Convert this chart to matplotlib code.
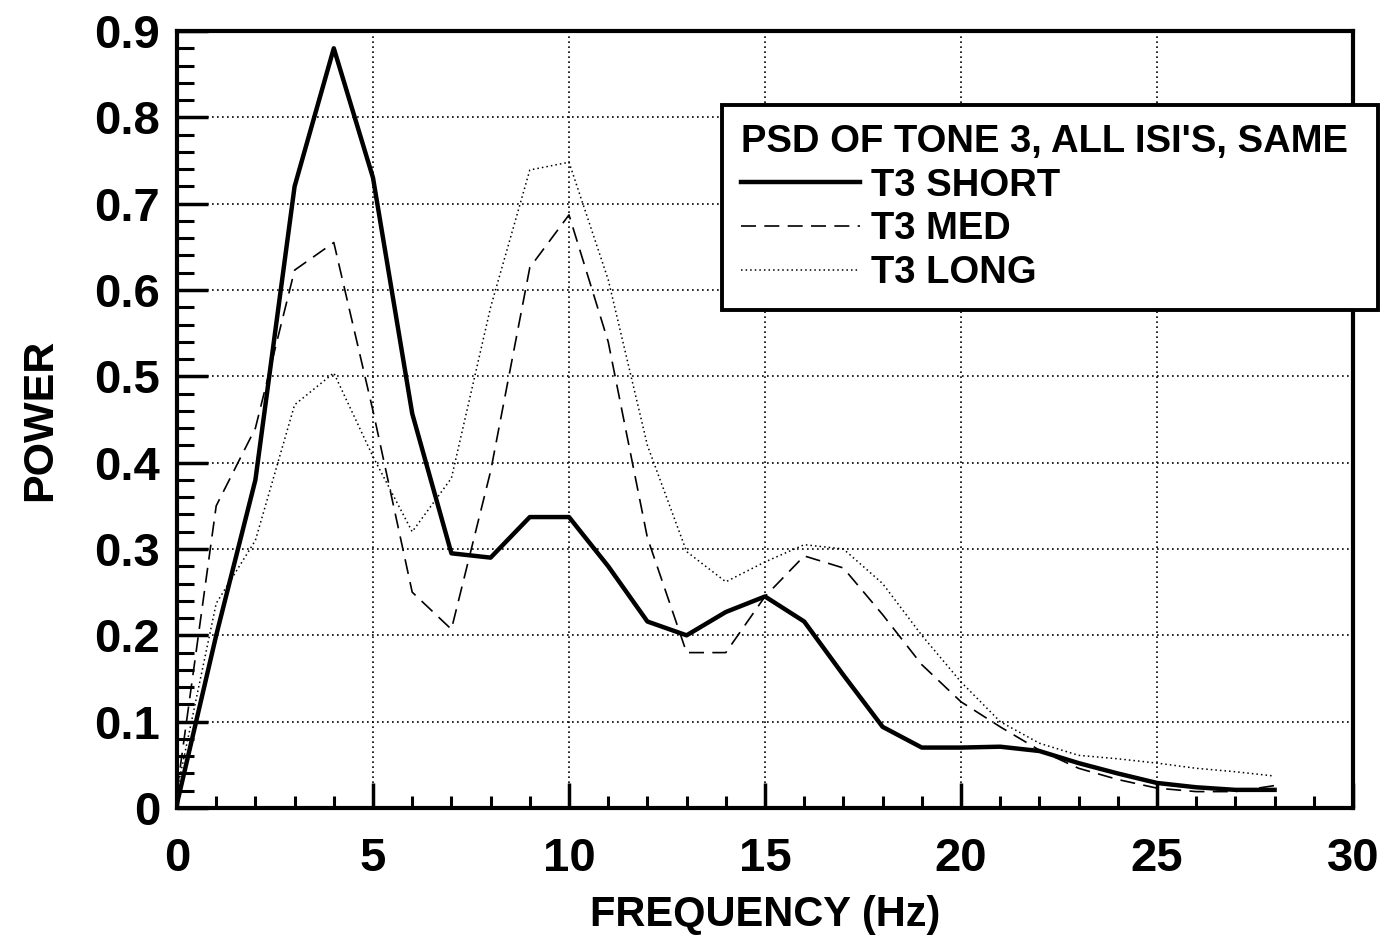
import matplotlib
matplotlib.use("Agg")
import matplotlib.pyplot as plt
from matplotlib.ticker import MultipleLocator

freq = list(range(0, 29))
t3_short = [0.005, 0.20, 0.38, 0.72, 0.88, 0.73, 0.457, 0.295, 0.29, 0.337, 0.337,
            0.28, 0.216, 0.20, 0.227, 0.245, 0.216, 0.154, 0.094, 0.07, 0.07,
            0.071, 0.066, 0.052, 0.04, 0.029, 0.024, 0.021, 0.021]
t3_med = [0.02, 0.35, 0.44, 0.623, 0.655, 0.46, 0.25, 0.207, 0.39, 0.626, 0.687,
          0.54, 0.313, 0.18, 0.18, 0.245, 0.292, 0.278, 0.224, 0.166, 0.123,
          0.094, 0.067, 0.046, 0.033, 0.023, 0.019, 0.019, 0.026]
t3_long = [0.02, 0.237, 0.31, 0.467, 0.504, 0.407, 0.32, 0.382, 0.58, 0.739, 0.748,
           0.612, 0.42, 0.297, 0.262, 0.285, 0.305, 0.3, 0.26, 0.2, 0.146,
           0.1, 0.075, 0.061, 0.057, 0.052, 0.046, 0.042, 0.037]
labels = ["T3 SHORT", "T3 MED", "T3 LONG"]
legend_title = "PSD OF TONE 3, ALL ISI'S, SAME"
xlabel = "FREQUENCY (Hz)"
ylabel = "POWER"
ytick_vals = [0, 0.1, 0.2, 0.3, 0.4, 0.5, 0.6, 0.7, 0.8, 0.9]
ytick_labels = ['0', '0.1', '0.2', '0.3', '0.4', '0.5', '0.6', '0.7', '0.8', '0.9']

plt.rcParams['font.family'] = ['Liberation Sans', 'DejaVu Sans']
plt.rcParams['font.weight'] = 'bold'

fig = plt.figure(figsize=(13.85, 9.36), dpi=100)
ax = fig.add_axes([177/1385, 1-808/936, (1353-177)/1385, (808-31)/936])

ax.plot(freq, t3_short, color='black', lw=3.2, ls='-', label=labels[0])
ax.plot(freq, t3_med, color='black', lw=1.2, ls=(0, (9, 5)), label=labels[1])
ax.plot(freq, t3_long, color='black', lw=1.1, ls=(0, (1, 2)), label=labels[2])

ax.set_xlim(0, 30)
ax.set_ylim(0, 0.9)
ax.xaxis.set_major_locator(MultipleLocator(5))
ax.xaxis.set_minor_locator(MultipleLocator(1))
ax.yaxis.set_minor_locator(MultipleLocator(0.02))
ax.set_yticks(ytick_vals)
ax.set_yticklabels(ytick_labels)

ax.tick_params(which='major', direction='in', length=18, width=2.5, labelsize=34)
ax.tick_params(which='minor', direction='in', length=9, width=2.2)
ax.tick_params(axis='x', which='major', pad=21)
ax.tick_params(axis='y', which='major', length=22, pad=12)
ax.tick_params(axis='y', which='minor', length=12)
for lab in ax.get_xticklabels() + ax.get_yticklabels():
    lab.set_fontweight('bold')

ax.grid(True, which='major', color='black', ls=(0, (1, 2)), lw=1.2)
for s in ax.spines.values():
    s.set_linewidth(3)

ax.set_xlabel(xlabel, fontsize=30, fontweight='bold', labelpad=10)
ax.set_ylabel(ylabel, fontsize=31, fontweight='bold', labelpad=25)

leg = ax.legend(title=legend_title, loc='upper left',
                bbox_to_anchor=(722/1385, 1-305/936, (1378-722)/1385, 200/936),
                bbox_transform=fig.transFigure, mode='expand',
                fontsize=27.5, title_fontproperties={'size': 27.5, 'weight': 'bold'},
                alignment='left', fancybox=False, framealpha=1, edgecolor='black',
                handlelength=3.1, handletextpad=0.3, labelspacing=0.2,
                borderpad=0.5, borderaxespad=0)
leg.get_frame().set_linewidth(2.8)
leg.set_zorder(5)
for t in leg.get_texts():
    t.set_fontweight('bold')

fig.savefig('out.png', dpi=100)
